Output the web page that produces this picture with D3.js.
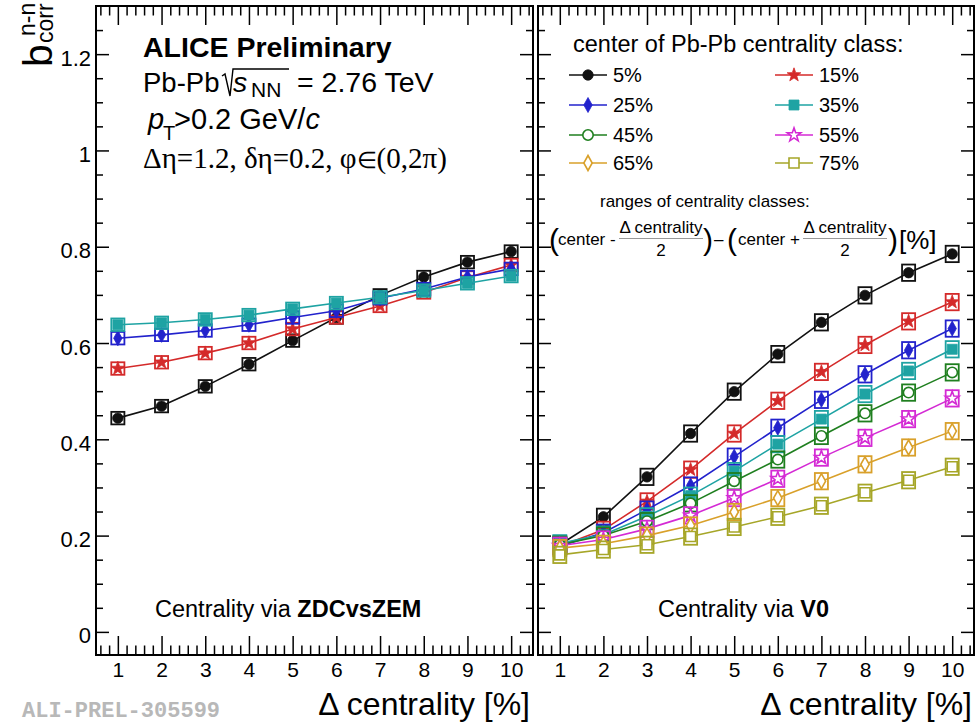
<!DOCTYPE html>
<html><head><meta charset="utf-8">
<script src="https://cdn.jsdelivr.net/npm/d3@7"></script>
<style>body{margin:0;background:#fff}svg{display:block}</style>
</head><body>
<svg id="c" width="975" height="726"></svg>
<script>
// ---------------- data ----------------
const xValues = [1,2,3,4,5,6,7,8,9,10];
const xTickLabels = ["1","2","3","4","5","6","7","8","9","10"];
const yTickValues = [0,0.2,0.4,0.6,0.8,1,1.2];
const yTickLabels = ["0","0.2","0.4","0.6","0.8","1","1.2"];
const classLabels = ["5%","15%","25%","35%","45%","55%","65%","75%"];

// left panel: centrality via ZDCvsZEM
const zdc_5  = [0.444,0.469,0.510,0.556,0.605,0.653,0.699,0.737,0.768,0.790];
const zdc_15 = [0.547,0.560,0.579,0.600,0.629,0.653,0.677,0.705,0.736,0.762];
const zdc_25 = [0.610,0.617,0.626,0.638,0.653,0.667,0.693,0.712,0.737,0.754];
const zdc_35 = [0.638,0.642,0.649,0.658,0.671,0.683,0.695,0.709,0.724,0.739];
// right panel: centrality via V0
const v0_5  = [0.181,0.239,0.322,0.412,0.499,0.577,0.643,0.699,0.746,0.785];
const v0_15 = [0.178,0.212,0.271,0.337,0.412,0.480,0.540,0.596,0.645,0.685];
const v0_25 = [0.178,0.206,0.254,0.304,0.364,0.424,0.482,0.535,0.585,0.630];
const v0_35 = [0.184,0.202,0.240,0.283,0.334,0.390,0.442,0.494,0.542,0.587];
const v0_45 = [0.181,0.200,0.230,0.267,0.313,0.358,0.407,0.454,0.497,0.539];
const v0_55 = [0.179,0.192,0.214,0.242,0.278,0.318,0.362,0.403,0.442,0.485];
const v0_65 = [0.174,0.183,0.200,0.221,0.249,0.278,0.313,0.348,0.383,0.417];
const v0_75 = [0.160,0.171,0.181,0.198,0.218,0.239,0.262,0.289,0.315,0.343];
// systematic uncertainties (half-height of boxes)
const sysZDC = 0.013;
const sysV0 = 0.017;

const seriesColors = ["#111111","#d42a2a","#2222cc","#1ea3a3","#1f7f1f","#d42ad4","#d9a02a","#a6a628"];
const markerShapes = ["circle","star","diamond","square","circleOpen","starOpen","diamondOpen","squareOpen"];

// ---------------- setup ----------------
const svg = d3.select("#c");
const SANS = "'Liberation Sans', Arial, Helvetica, sans-serif";
const SERIF = "'Liberation Serif', 'Times New Roman', serif";
svg.append("rect").attr("width",975).attr("height",726).attr("fill","#fff");

const y = d3.scaleLinear().domain([-0.048,1.3]).range([655,6]);
const xL = d3.scaleLinear().domain([0.5,10.5]).range([96,533]);
const xR = d3.scaleLinear().domain([0.5,10.5]).range([538,974]);

const minorX = d3.range(3,53).map(i=>+(i*0.2).toFixed(1)).filter(v=>Math.abs(v-Math.round(v))>1e-6);
const minorY = d3.range(0,26).filter(i=>i%4!==0).map(i=>+(i*0.05).toFixed(2));

function markerPath(shape){
  const base = shape.replace("Open","");
  if(base==="circle"){ return d3.symbol(d3.symbolCircle, Math.PI*5.2*5.2)(); }
  if(base==="square"){ const s=5; return `M${-s},${-s}H${s}V${s}H${-s}Z`; }
  if(base==="diamond"){ const w=4.2,h=7.5; return `M0,${-h}L${w},0L0,${h}L${-w},0Z`; }
  if(base==="star"){
    const R=7.2, r=2.9; let p="";
    for(let i=0;i<10;i++){ const rad=i%2?r:R; const a=-Math.PI/2+i*Math.PI/5;
      p+=(i?"L":"M")+(rad*Math.cos(a)).toFixed(2)+","+(rad*Math.sin(a)).toFixed(2); }
    return p+"Z";
  }
}
function drawMarker(g, shape, color, cx, cy){
  const open = shape.endsWith("Open");
  g.append("path").attr("d", markerPath(shape))
    .attr("transform",`translate(${cx},${cy})`)
    .attr("fill", open ? "#fff" : color)
    .attr("stroke", color).attr("stroke-width", open?1.6:0.8);
}

function drawPanel(x, showLabels){
  const g = svg.append("g");
  const [x0,x1] = x.range(); const [y0,y1] = y.range();
  const axes = [
    {ax:d3.axisBottom(x), t:`translate(0,${y0})`, type:"x"},
    {ax:d3.axisTop(x), t:`translate(0,${y1})`, type:"x"},
    {ax:d3.axisLeft(y), t:`translate(${x0},0)`, type:"y"},
    {ax:d3.axisRight(y), t:`translate(${x1},0)`, type:"y"}
  ];
  axes.forEach((a,k)=>{
    const isX = a.type==="x";
    const major = a.ax.tickValues(isX?xValues:yTickValues).tickSize(isX?-19:-13).tickSizeOuter(0);
    if(k===0){ major.tickFormat((d,i)=>xTickLabels[i]).tickPadding(7); }
    else if(k===2 && showLabels){ major.tickFormat((d,i)=>yTickLabels[i]).tickPadding(5); }
    else major.tickFormat("");
    const mg = g.append("g").attr("transform",a.t).call(major);
    mg.select(".domain").remove();
    mg.selectAll("line").attr("stroke","#000").attr("stroke-width",1.5);
    mg.selectAll("text").attr("fill","#000").attr("font-family",SANS).attr("font-size",21);
    if(k===2) mg.selectAll("text").attr("dy","0.5em").attr("font-size",22);
    const minor = (isX? (k===0?d3.axisBottom(x):d3.axisTop(x)) : (k===2?d3.axisLeft(y):d3.axisRight(y)))
      .tickValues(isX?minorX:minorY).tickSize(isX?-9.5:-7).tickSizeOuter(0).tickFormat("");
    const ng = g.append("g").attr("transform",a.t).call(minor);
    ng.select(".domain").remove();
    ng.selectAll("line").attr("stroke","#000").attr("stroke-width",1.5);
  });
  g.append("rect").attr("x",x0).attr("y",y1).attr("width",x1-x0).attr("height",y0-y1)
    .attr("fill","none").attr("stroke","#000").attr("stroke-width",2);
  return g;
}

function drawSeries(x, vals, idx, sys){
  const color = seriesColors[idx], shape = markerShapes[idx];
  const g = svg.append("g");
  const line = d3.line().x((d,i)=>x(xValues[i])).y(d=>y(d));
  g.append("path").attr("d", line(vals)).attr("fill","none").attr("stroke",color).attr("stroke-width",1.6);
  vals.forEach((v,i)=>{
    const xv = xValues[i];
    g.append("rect").attr("x", x(xv-0.15)).attr("width", x(xv+0.15)-x(xv-0.15))
      .attr("y", y(v+sys)).attr("height", y(v-sys)-y(v+sys))
      .attr("fill","none").attr("stroke",color).attr("stroke-width",1.8);
  });
  vals.forEach((v,i)=> drawMarker(g, shape, color, x(xValues[i]), y(v)));
}

drawPanel(xL, true);
drawPanel(xR, false);

[zdc_5,zdc_15,zdc_25,zdc_35].forEach((s,i)=>drawSeries(xL, s, i, sysZDC));
[v0_5,v0_15,v0_25,v0_35,v0_45,v0_55,v0_65,v0_75].forEach((s,i)=>drawSeries(xR, s, i, sysV0));

// ---------------- texts ----------------
function txt(x,yy,s,size,opts={}){
  const t = svg.append("text").attr("x",x).attr("y",yy).attr("font-family",opts.family||SANS)
    .attr("font-size",size).attr("fill",opts.fill||"#000").text(s);
  if(opts.weight) t.attr("font-weight",opts.weight);
  if(opts.anchor) t.attr("text-anchor",opts.anchor);
  if(opts.style) t.attr("font-style",opts.style);
  return t;
}

// y-axis title  b^{n-n}_{corr}
const yt = svg.append("g").attr("transform","translate(52,0) rotate(-90)");
yt.append("text").attr("x",-67).attr("y",0).attr("font-family",SANS).attr("font-size",41).text("b");
yt.append("text").attr("x",-36).attr("y",-17).attr("font-family",SANS).attr("font-size",23).text("n-n");
yt.append("text").attr("x",-43).attr("y",1).attr("font-family",SANS).attr("font-size",23).text("corr");

// header texts left panel
txt(143,57,"ALICE Preliminary",28.5,{weight:"bold"});
const l2 = svg.append("text").attr("y",92).attr("font-family",SANS).attr("font-size",28.5);
l2.append("tspan").attr("x",143).attr("font-size",27.5).text("Pb-Pb");
l2.append("tspan").attr("x",233).attr("font-style","italic").text("s");
l2.append("tspan").attr("x",251).attr("dy",5).attr("font-size",21).text("NN");
l2.append("tspan").attr("x",297).attr("dy",-5).text("= 2.76 TeV");
svg.append("path").attr("d","M222,76 L225,74 L230,96 L233,69 L289,69").attr("fill","none").attr("stroke","#000").attr("stroke-width",1.4);

const l3 = svg.append("text").attr("y",129).attr("font-family",SANS).attr("font-size",29);
l3.append("tspan").attr("x",148).attr("font-style","italic").text("p");
l3.append("tspan").attr("x",163).attr("dy",11).attr("font-size",20).text("T");
l3.append("tspan").attr("x",174).attr("dy",-11).text(">0.2 GeV/");
l3.append("tspan").attr("font-style","italic").text("c");

const l4 = svg.append("text").attr("x",143).attr("y",168).attr("font-family",SERIF).attr("font-size",29);
l4.append("tspan").text("Δη=1.2, δη=0.2, φ");
l4.append("tspan").attr("font-size",23).text("∈");
l4.append("tspan").text("(0,2π)");

// panel labels
const c1 = svg.append("text").attr("x",155).attr("y",617).attr("font-family",SANS).attr("font-size",23.5);
c1.append("tspan").text("Centrality via ");
c1.append("tspan").attr("font-weight","bold").text("ZDCvsZEM");
const c2 = svg.append("text").attr("x",658).attr("y",617).attr("font-family",SANS).attr("font-size",23.5);
c2.append("tspan").text("Centrality via ");
c2.append("tspan").attr("font-weight","bold").text("V0");

// x-axis titles
txt(530,715,"Δ centrality [%]",32,{anchor:"end"});
txt(972,715,"Δ centrality [%]",32,{anchor:"end"});
txt(22,717,"ALI-PREL-305599",22,{family:"'Liberation Mono','Courier New',monospace",weight:"bold",fill:"#b8b8b8"});

// legend
txt(573,52,"center of Pb-Pb centrality class:",23.5);
const legCols = [588, 794];
const legRows = [75, 105, 135, 163];
classLabels.forEach((lab,i)=>{
  const cx = legCols[i%2], cy = legRows[Math.floor(i/2)];
  const g = svg.append("g");
  g.append("line").attr("x1",cx-19).attr("x2",cx+19).attr("y1",cy).attr("y2",cy)
    .attr("stroke",seriesColors[i]).attr("stroke-width",1.6);
  drawMarker(g, markerShapes[i], seriesColors[i], cx, cy);
  txt(cx+25, cy+6.5, lab, 20);
});

// ranges formula
txt(600,207,"ranges of centrality classes:",17);
txt(549,250,"(",30);
txt(558,245,"center -",17);
txt(661,233,"Δ centrality",17,{anchor:"middle"});
svg.append("line").attr("x1",619).attr("x2",703).attr("y1",238.5).attr("y2",238.5).attr("stroke","#999").attr("stroke-width",1);
txt(661,256,"2",17,{anchor:"middle"});
txt(703,250,")",30);
txt(714,245,"–",17);
txt(727,250,"(",30);
txt(738,245,"center +",17);
txt(845,233,"Δ centrality",17,{anchor:"middle"});
svg.append("line").attr("x1",803).attr("x2",887).attr("y1",238.5).attr("y2",238.5).attr("stroke","#999").attr("stroke-width",1);
txt(845,256,"2",17,{anchor:"middle"});
txt(888,250,")",30);
txt(899,249,"[%]",26);
</script>
</body></html>
